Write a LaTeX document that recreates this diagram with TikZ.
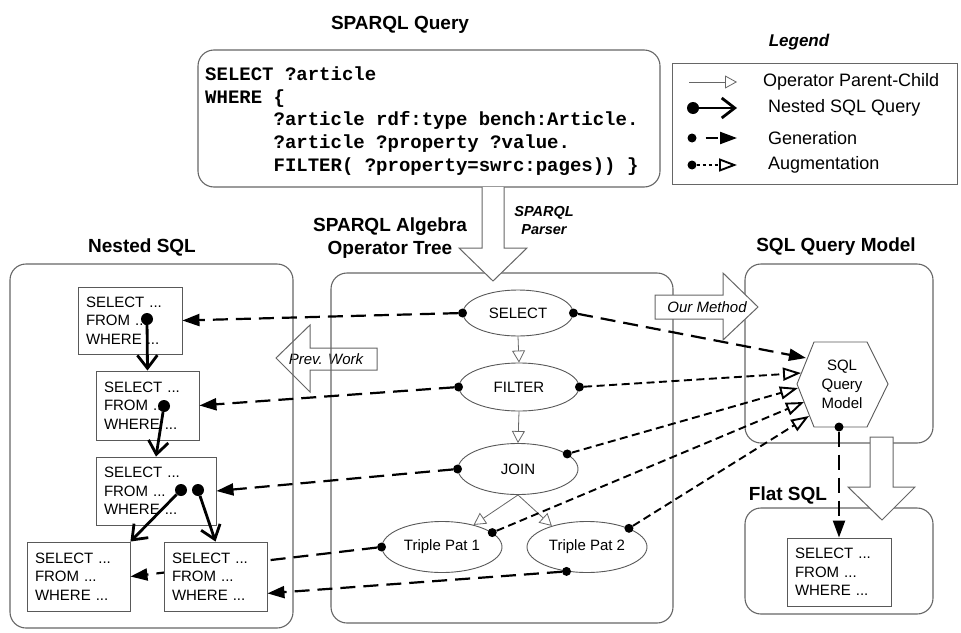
\documentclass[tikz,border=0pt]{standalone}
\usepackage{fontspec}
\setmainfont{Liberation Sans}
\setmonofont{Liberation Mono}
\usetikzlibrary{arrows.meta,shapes.geometric,calc}

\tikzset{
  every node/.style={inner sep=0pt},
  title/.style={font=\fontsize{19}{23}\selectfont\bfseries, align=center},
  frame/.style={draw=black!60, line width=1.1pt, rounded corners=16pt},
  sqlbox/.style={draw=black!65, line width=0.9pt, fill=white, align=left,
    font=\fontsize{15}{18.5}\selectfont, inner xsep=8pt, text width=88pt,
    minimum height=68pt},
  op/.style={ellipse, draw=black!65, line width=0.9pt, fill=white,
    minimum width=120pt, minimum height=51pt, font=\fontsize{15}{18}\selectfont},
  blockarrow/.style={draw=black!60, line width=1pt, fill=white},
  arrowtext/.style={font=\fontsize{15}{18}\selectfont\itshape},
  legtext/.style={font=\fontsize{18}{21}\selectfont, anchor=west},
  gen/.style={line width=2.2pt, dash pattern=on 15pt off 8pt,
    -{Triangle[length=17pt,width=12pt]}},
  aug/.style={line width=1.9pt, dash pattern=on 8pt off 4.5pt,
    -{Triangle[open,length=18pt,width=13pt,fill=white]}},
  nest/.style={line width=2.8pt, -{Straight Barb[length=13pt,width=20pt]}},
  pc/.style={draw=black!60, line width=0.8pt,
    -{Triangle[open,length=12pt,width=13pt,fill=white]}},
  bigdot/.style={circle, fill=black, minimum size=12pt},
  smalldot/.style={circle, fill=black, minimum size=9pt},
}

\begin{document}
\begin{tikzpicture}[x=1pt,y=-1pt]
\useasboundingbox (0,0) rectangle (961,632);

% ---------- titles ----------
\node[title] (tq) at (400,25) {SPARQL Query};
\node[font=\fontsize{17}{20}\selectfont\bfseries\itshape] (tleg) at (799,42) {Legend};
\node[title] (tn) at (142,247) {Nested SQL};
\node[title] (tt) at (390,238) {SPARQL Algebra\\Operator Tree};
\node[title] (tm) at (836,247) {SQL Query Model};
\node[title] (tf) at (788,495) {Flat SQL};

% ---------- previous-work block arrow (behind the frames) ----------
\draw[blockarrow] (276,358) -- (310,325) -- (310,348) -- (377,348) -- (377,370)
  -- (310,370) -- (310,392) -- cycle;
\node[arrowtext] (prev) at (326,359) {Prev. Work};

% ---------- frames ----------
\draw[frame] (198,50) rectangle (660,187);
\draw[frame] (10,264) rectangle (293,628);
\draw[frame] (331,273) rectangle (673,623);
\draw[frame] (745,264) rectangle (933,443);
\draw[frame] (745,508) rectangle (933,614);
\draw[draw=black!60, line width=0.9pt] (672,63) rectangle (957,184);

% ---------- SPARQL query text ----------
\node[font=\fontsize{19}{22.8}\selectfont\ttfamily\bfseries, align=left, anchor=west]
  (qtext) at (205,121)
  {SELECT ?article\\
   WHERE \{\\
   \hspace*{68.4pt}?article rdf:type bench:Article.\\
   \hspace*{68.4pt}?article ?property ?value.\\
   \hspace*{68.4pt}FILTER( ?property=swrc:pages)) \}};

% ---------- parser arrow ----------
\draw[blockarrow] (482,187) -- (482,248) -- (459,248) -- (493,281) -- (527,248)
  -- (504,248) -- (504,187);
\node[font=\fontsize{14.5}{18}\selectfont\bfseries\itshape, align=center]
  (parser) at (544,221) {SPARQL\\Parser};

% ---------- operator tree ----------
\node[op, minimum width=110pt, minimum height=46pt] (sel) at (518,313) {SELECT};
\node[op, minimum height=48pt] (fil) at (519,387) {FILTER};
\node[op] (join) at (518,469) {JOIN};
\node[op] (tp1) at (442,547) {Triple Pat 1};
\node[op] (tp2) at (587,547) {Triple Pat 2};

\draw[pc] (sel.south) -- (fil.north);
\draw[pc] (fil.south) -- (join.north);
\draw[pc] (join.south) -- (tp1.35);
\draw[pc] (join.south) -- (tp2.149);

% ---------- nested SQL boxes ----------
\node[sqlbox, minimum height=67pt] (b1) at (130,320.5) {SELECT ...\\FROM ...\\WHERE ...};
\node[sqlbox, text width=87pt, minimum height=69pt] (b2) at (147.5,405.5) {SELECT ...\\FROM ...\\WHERE ...};
\node[sqlbox, text width=104pt] (b3) at (156,491) {SELECT ...\\FROM ...\\WHERE ...};
\node[sqlbox, text width=87pt, minimum height=69pt] (b4) at (78.5,576.5) {SELECT ...\\FROM ...\\WHERE ...};

% ---------- SQL query model hexagon ----------
\filldraw[draw=black!65, line width=0.9pt, fill=white]
  (797,384) -- (814,342) -- (867,342) -- (888,384) -- (867,427) -- (814,427) -- cycle;
\node[font=\fontsize{15}{19}\selectfont, align=center] (hex) at (842,384) {SQL\\Query\\Model};
\coordinate (h0) at (806,358);
\coordinate (h1) at (801,373);
\coordinate (h2) at (798,388);
\coordinate (h3) at (804,402);
\coordinate (h4) at (809,416);

% ---------- connection dots on operators ----------
\node[smalldot] (selW) at (sel.west) {};
\node[smalldot] (selE) at (sel.east) {};
\node[smalldot] (filW) at (fil.west) {};
\node[smalldot] (filE) at (fil.east) {};
\node[smalldot] (joinW) at (join.west) {};
\node[smalldot] (joinE) at (join.17) {};
\node[smalldot] (tp1W) at (tp1.west) {};
\node[smalldot] (tp1E) at (tp1.16) {};
\node[smalldot] (tp2E) at (tp2.24) {};
\node[smalldot] (tp2S) at (tp2.230) {};
\node[smalldot] (hexS) at (839,427) {};

% ---------- generation (to nested SQL) ----------
\draw[gen] (selW) -- (b1.east);
\draw[gen] (filW) -- (b2.east);
\draw[gen] (joinW) -- (b3.east);
\draw[gen] (tp1W) -- (b4.east);

% the last nested box sits over the line that passes behind it
\node[sqlbox, text width=87pt, minimum height=69pt] (b5) at (215.5,576.5) {SELECT ...\\FROM ...\\WHERE ...};
\draw[gen] (tp2S) -- (b5.-18);

% ---------- nesting of SQL queries ----------
\node[bigdot] (n1) at (147,319) {};
\node[bigdot] (n2) at (164,406) {};
\node[bigdot] (n3) at (181,490) {};
\node[bigdot] (n4) at (198,490) {};
\draw[nest] (n1) -- (b2.north);
\draw[nest] (n2) -- (b3.north);
\draw[nest] (n3) -- (b4.north east);
\draw[nest] (n4) -- (b5.north);

% ---------- generation and augmentation of the query model ----------
\draw[gen] (selE) -- (h0);
\draw[aug] (filE) -- (h1);
\draw[aug] (joinE) -- (h2);
\draw[aug] (tp1E) -- (h3);
\draw[aug] (tp2E) -- (h4);

% ---------- our method arrow ----------
\draw[blockarrow] (655,295) -- (723,295) -- (723,273) -- (758,307) -- (723,340)
  -- (723,319) -- (655,319) -- cycle;
\node[arrowtext] (ours) at (707,307) {Our Method};

% ---------- flat SQL ----------
\draw[blockarrow] (870,437) -- (870,487) -- (848,487) -- (882,520) -- (915,487)
  -- (893,487) -- (893,437) -- cycle;
\node[sqlbox] (flat) at (839,572) {SELECT ...\\FROM ...\\WHERE ...};
\draw[gen] (hexS) -- (flat.north);

% ---------- legend ----------
\coordinate (l1a) at (689,82);  \coordinate (l1b) at (737,82);
\draw[pc] (l1a) -- (l1b);
\node[legtext] (lt1) at (763,82) {Operator Parent-Child};

\node[bigdot] (l2a) at (693,108) {}; \coordinate (l2b) at (737,108);
\draw[nest] (l2a) -- (l2b);
\node[legtext] (lt2) at (768,108) {Nested SQL Query};

\node[smalldot] (l3a) at (692,138) {}; \coordinate (l3b) at (737,138);
\draw[gen, dash pattern=on 0pt off 9pt on 12pt off 40pt] (l3a) -- (l3b);
\node[legtext] (lt3) at (768,138) {Generation};

\node[smalldot] (l4a) at (692,165) {}; \coordinate (l4b) at (737,165);
\draw[aug, dash pattern=on 3pt off 3pt] (l4a) -- (l4b);
\node[legtext] (lt4) at (768,165) {Augmentation};

\end{tikzpicture}
\end{document}
